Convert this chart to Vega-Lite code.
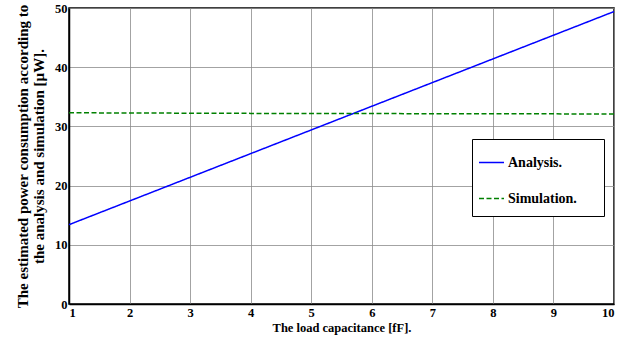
{
  "$schema": "https://vega.github.io/schema/vega-lite/v6.json",
  "width": 545,
  "height": 296,
  "autosize": {"type": "none"},
  "padding": {"left": 69, "top": 8, "right": 26, "bottom": 36},
  "background": "white",
  "config": {
    "font": "Liberation Serif",
    "view": {"stroke": "black", "strokeWidth": 1.5},
    "axis": {
      "labelFont": "Liberation Serif",
      "titleFont": "Liberation Serif",
      "labelFontWeight": "bold",
      "titleFontWeight": "bold",
      "labelFontSize": 12.5,
      "titleFontSize": 12.5,
      "labelColor": "black",
      "titleColor": "black",
      "domainColor": "black",
      "domainWidth": 1.5,
      "gridColor": "#8c8c8c",
      "gridWidth": 0.8,
      "gridOpacity": 1,
      "ticks": false
    }
  },
  "data": {
    "values": [
      {"x": 1, "y": 13.4, "series": "Analysis."},
      {"x": 10, "y": 49.4, "series": "Analysis."},
      {"x": 1, "y": 32.3, "series": "Simulation."},
      {"x": 4, "y": 32.2, "series": "Simulation."},
      {"x": 7, "y": 32.15, "series": "Simulation."},
      {"x": 10, "y": 32.1, "series": "Simulation."}
    ]
  },
  "mark": {"type": "line", "strokeWidth": 1.5},
  "encoding": {
    "x": {
      "field": "x",
      "type": "quantitative",
      "scale": {"domain": [1, 10], "nice": false},
      "axis": {
        "values": [1, 2, 3, 4, 5, 6, 7, 8, 9, 10],
        "title": "The load capacitance [fF].",
        "titlePadding": 3,
        "labelPadding": 2,
        "grid": true
      }
    },
    "y": {
      "field": "y",
      "type": "quantitative",
      "scale": {"domain": [0, 50], "nice": false},
      "axis": {
        "values": [0, 10, 20, 30, 40, 50],
        "title": ["The estimated power consumption according to", "the analysis and simulation [µW]."],
        "titleFontSize": 15,
        "titleLineHeight": 16,
        "titlePadding": 8,
        "labelPadding": 2,
        "grid": true
      }
    },
    "color": {
      "field": "series",
      "type": "nominal",
      "scale": {"domain": ["Analysis.", "Simulation."], "range": ["#0000ff", "#008000"]},
      "legend": {
        "title": "MM",
        "titleOrient": "right",
        "titleColor": "white",
        "titleFontSize": 9,
        "titlePadding": 0,
        "orient": "none",
        "legendX": 403,
        "legendY": 131,
        "direction": "vertical",
        "strokeColor": "black",
        "fillColor": "white",
        "padding": 10,
        "rowPadding": 15,
        "symbolType": "stroke",
        "symbolSize": 625,
        "symbolOffset": -4,
        "symbolStrokeWidth": 1.5,
        "labelFont": "Liberation Serif",
        "labelFontWeight": "bold",
        "labelFontSize": 14,
        "labelColor": "black",
        "labelOffset": 3
      }
    },
    "strokeDash": {
      "field": "series",
      "type": "nominal",
      "scale": {"domain": ["Analysis.", "Simulation."], "range": [[1, 0], [5, 2.5]]},
      "legend": null
    }
  }
}
